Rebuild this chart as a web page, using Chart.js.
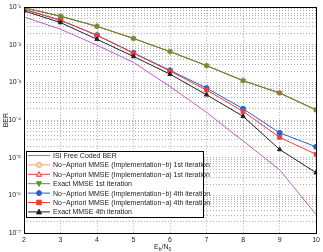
<!DOCTYPE html>
<html>
<head>
<meta charset="utf-8">
<script src="https://cdn.jsdelivr.net/npm/chart.js@4/dist/chart.umd.min.js"></script>
<style>
  html, body { margin: 0; padding: 0; background: #fff; }
  #wrap { width: 323px; height: 252px; position: relative; }
</style>
</head>
<body>
<div id="wrap"><canvas id="berChart"></canvas></div>
<script>
// Eb/N0 points and BER curves
const ebno = [2, 3, 4, 5, 6, 7, 8, 9, 10];
const isiFree   = [0.055, 0.026, 0.0098, 0.0034, 7.8e-4, 1.6e-4, 2.8e-5, 4.8e-6, 3.1e-7];
const implB1st  = [0.097, 0.058, 0.031, 0.0148, 0.0066, 0.0028, 0.00112, 5.3e-4, 1.9e-4];
const implA1st  = [0.096, 0.057, 0.031, 0.0147, 0.0066, 0.0028, 0.00111, 5.2e-4, 1.85e-4];
const exact1st  = [0.097, 0.058, 0.031, 0.0148, 0.0066, 0.0028, 0.00112, 5.3e-4, 1.87e-4];
const implB4th  = [0.088, 0.045, 0.018, 0.0061, 0.0021, 7.1e-4, 2.0e-4, 4.6e-5, 1.95e-5];
const implA4th  = [0.088, 0.045, 0.018, 0.0060, 0.0020, 6.3e-4, 1.7e-4, 3.5e-5, 1.23e-5];
const exact4th  = [0.080, 0.039, 0.014, 0.0049, 0.00166, 4.7e-4, 1.26e-4, 1.66e-5, 4.0e-6];

const xTicks = [2, 3, 4, 5, 6, 7, 8, 9, 10];
const yDecades = [-7, -6, -5, -4, -3, -2, -1];
const yMantissas = [1, 2, 3, 4, 5, 6, 7, 8, 9];

const seriesLabels = [
  'ISI Free Coded BER',
  'No\u2212Apriori MMSE (Implementation\u2212b) 1st iteration',
  'No\u2212Apriori MMSE (Implementation\u2212a) 1st iteration',
  'Exact MMSE 1st Iteration',
  'No\u2212Apriori MMSE (Implementation\u2212b) 4th iteration',
  'No\u2212Apriori MMSE (Implementation\u2212a) 4th iteration',
  'Exact MMSE 4th iteration'
];

const FONT = '"Liberation Sans", Arial, sans-serif';
const sup = { '-': '\u207B', '1': '\u00B9', '2': '\u00B2', '3': '\u00B3', '4': '\u2074', '5': '\u2075', '6': '\u2076', '7': '\u2077' };
const pts = ys => ebno.map((x, i) => ({ x, y: ys[i] }));

function series(label, ys, color, style) {
  return Object.assign({
    label,
    data: pts(ys),
    borderColor: color,
    backgroundColor: color,
    borderWidth: 1,
    pointRadius: 2.5,
    pointBorderWidth: 1,
    pointBorderColor: color,
    pointBackgroundColor: color,
    pointStyle: 'circle',
    pointRotation: 0,
    tension: 0
  }, style);
}

// lower "order" is drawn on top
const datasets = [
  series(seriesLabels[0], isiFree, '#bf5fc4', { pointRadius: 0, order: 5 }),
  series(seriesLabels[1], implB1st, '#f2a45e', { pointBackgroundColor: '#fbe0c4', order: 3 }),
  series(seriesLabels[2], implA1st, '#f03c3c', { pointStyle: 'triangle', pointBackgroundColor: '#fbd0d0', order: 2 }),
  series(seriesLabels[3], exact1st, '#4f9a3c', { pointStyle: 'triangle', pointRotation: 180, order: 1 }),
  series(seriesLabels[4], implB4th, '#2f5fc8', { order: 3 }),
  series(seriesLabels[5], implA4th, '#f03c3c', { pointStyle: 'rect', pointRadius: 2.7, order: 2 }),
  series(seriesLabels[6], exact4th, '#222222', { pointStyle: 'triangle', order: 1 })
];

function marker(ctx, ds, x, y) {
  const r = ds.pointRadius;
  if (!r) return;
  ctx.save();
  ctx.fillStyle = ds.pointBackgroundColor;
  ctx.strokeStyle = ds.pointBorderColor;
  ctx.lineWidth = 1;
  ctx.beginPath();
  if (ds.pointStyle === 'circle') {
    ctx.arc(x, y, r, 0, Math.PI * 2);
  } else if (ds.pointStyle === 'rect') {
    ctx.rect(x - r * 0.85, y - r * 0.85, 1.7 * r, 1.7 * r);
  } else {
    const s = ds.pointRotation === 180 ? -1 : 1;
    ctx.moveTo(x, y - s * r * 1.1);
    ctx.lineTo(x + r, y + s * r * 0.8);
    ctx.lineTo(x - r, y + s * r * 0.8);
    ctx.closePath();
  }
  ctx.fill();
  ctx.stroke();
  ctx.restore();
}

const decor = {
  id: 'decor',
  afterDraw(chart) {
    const { ctx, chartArea: a } = chart;
    ctx.save();
    // frame
    ctx.strokeStyle = '#000';
    ctx.lineWidth = 1;
    ctx.strokeRect(Math.round(a.left) + 0.5, Math.round(a.top) + 0.5, Math.round(a.right - a.left), Math.round(a.bottom - a.top));

    // axis titles
    ctx.fillStyle = '#222';
    ctx.textBaseline = 'alphabetic';
    const cx = (a.left + a.right) / 2 - 6;
    const by = 249;
    let x = cx - 10;
    const parts = [['E', 0, 7], ['b', 2, 5], ['/N', 0, 7], ['0', 2, 5]];
    parts.forEach(([t, dy, fs]) => {
      ctx.font = fs + 'px ' + FONT;
      ctx.fillText(t, x, by + dy);
      x += ctx.measureText(t).width;
    });
    ctx.save();
    ctx.translate(8, (a.top + a.bottom) / 2);
    ctx.rotate(-Math.PI / 2);
    ctx.font = '7px ' + FONT;
    ctx.textAlign = 'center';
    ctx.fillText('BER', 0, 0);
    ctx.restore();

    // legend box
    const lx = 26, ly = 151, lw = 177, lh = 66, row = 9.4;
    ctx.fillStyle = '#fff';
    ctx.fillRect(lx, ly, lw, lh);
    ctx.strokeStyle = '#000';
    ctx.strokeRect(lx + 0.5, ly + 0.5, lw, lh);
    ctx.font = '7px ' + FONT;
    ctx.textBaseline = 'middle';
    chart.data.datasets.forEach((ds, i) => {
      const y = ly + 4.5 + row * i;
      ctx.strokeStyle = ds.borderColor;
      ctx.beginPath();
      ctx.moveTo(lx + 2, y);
      ctx.lineTo(lx + 24, y);
      ctx.stroke();
      marker(ctx, ds, lx + 13, y);
      ctx.fillStyle = '#222';
      ctx.fillText(ds.label, lx + 27, y + 0.5);
    });
    ctx.restore();
  }
};

new Chart(document.getElementById('berChart'), {
  type: 'line',
  data: { datasets },
  plugins: [decor],
  options: {
    responsive: true,
    maintainAspectRatio: false,
    animation: false,
    layout: { padding: { top: 6, right: 3, left: 0, bottom: 0 } },
    plugins: { legend: { display: false }, tooltip: { enabled: false } },
    scales: {
      x: {
        type: 'linear', min: 2, max: 10,
        afterFit: s => { s.height = 19; },
        afterBuildTicks: s => { s.ticks = xTicks.map(v => ({ value: v })); },
        grid: { color: '#9a9a9a', lineWidth: 0.8, drawTicks: false },
        border: { display: false, dash: [1, 2] },
        ticks: { color: '#222', font: { family: FONT, size: 7 }, padding: 3, maxRotation: 0 }
      },
      y: {
        type: 'logarithmic', min: 1e-7, max: 1e-1,
        afterFit: s => { s.width = 24; },
        afterBuildTicks: s => {
          const t = [];
          yDecades.forEach(d => {
            yMantissas.forEach(m => {
              const v = m * Math.pow(10, d);
              if (v <= 0.1000001) t.push({ value: v, major: m === 1 });
            });
          });
          s.ticks = t;
        },
        grid: { color: '#9a9a9a', lineWidth: 0.8, drawTicks: false },
        border: { display: false, dash: [1, 2] },
        ticks: {
          autoSkip: false,
          color: '#222',
          font: { family: FONT, size: 7 },
          padding: 3,
          callback: v => {
            const e = Math.round(Math.log10(v));
            if (Math.abs(v / Math.pow(10, e) - 1) > 1e-6) return '';
            return '10' + String(e).split('').map(c => sup[c]).join('');
          }
        }
      }
    }
  }
});
</script>
</body>
</html>
